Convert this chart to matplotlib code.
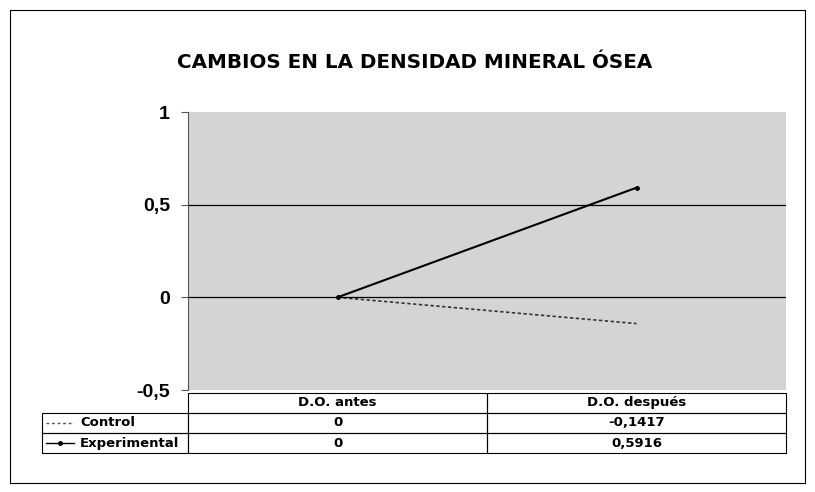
import matplotlib.pyplot as plt
from matplotlib.patches import Rectangle
from matplotlib.lines import Line2D

plt.rcParams['font.family'] = ['Liberation Sans', 'DejaVu Sans']

categories = ['D.O. antes', 'D.O. después']
control = [0, -0.1417]
experimental = [0, 0.5916]
control_labels = ['0', '-0,1417']
experimental_labels = ['0', '0,5916']
yticks = [-0.5, 0, 0.5, 1]
ytick_labels = ['-0,5', '0', '0,5', '1']

fig = plt.figure(figsize=(8.15, 4.92), dpi=100)
fig.patches.append(Rectangle((10 / 815, 1 - 483 / 492), 795 / 815, 473 / 492,
                             transform=fig.transFigure, fill=False,
                             edgecolor='black', linewidth=0.8))

ax = fig.add_axes([188 / 815, 1 - 390 / 492, 598 / 815, 278 / 492])
ax.set_facecolor('#d4d4d4')
x = [0.5, 1.5]
ax.plot(x, control, color='#333333', linestyle=(0, (2, 1.5)), linewidth=1.2)
ax.plot(x, experimental, color='black', linewidth=1.5, marker='o', markersize=2.5)
ax.set_xlim(0, 2)
ax.set_ylim(-0.5, 1)
ax.set_yticks(yticks)
ax.set_yticklabels(ytick_labels, fontsize=14, fontweight='bold')
ax.set_xticks([])
for y in [0, 0.5]:
    ax.axhline(y, color='black', linewidth=0.9)
for s in ['top', 'right', 'bottom']:
    ax.spines[s].set_visible(False)
ax.spines['left'].set_color('#555555')
ax.tick_params(axis='y', length=5, pad=8, color='#555555')

ax.set_title('CAMBIOS EN LA DENSIDAD MINERAL ÓSEA', fontsize=14.3, fontweight='bold',
             family='DejaVu Sans', x=(415 - 188) / 598, y=1.13)

# data table under the plot, drawn in axes coordinates
left = (42 - 188) / 598
xs = [left, 0, 0.5, 1]
ys = [-0.0108, -0.0827, -0.1547, -0.2266]
tkw = dict(transform=ax.transAxes, fontsize=9.5, fontweight='bold',
           family='DejaVu Sans', va='center', clip_on=False)


def cell(x0, x1, y0, y1):
    ax.add_patch(Rectangle((x0, y1), x1 - x0, y0 - y1, transform=ax.transAxes,
                           fill=False, edgecolor='black', linewidth=0.8, clip_on=False))


for j, name in enumerate(categories):
    cell(xs[j + 1], xs[j + 2], ys[0], ys[1])
    ax.text((xs[j + 1] + xs[j + 2]) / 2, (ys[0] + ys[1]) / 2, name, ha='center', **tkw)

rows = [('Control', control_labels), ('Experimental', experimental_labels)]
for i, (label, vals) in enumerate(rows):
    y0, y1 = ys[i + 1], ys[i + 2]
    yc = (y0 + y1) / 2
    cell(xs[0], xs[1], y0, y1)
    ax.text((80 - 188) / 598, yc, label, ha='left', **tkw)
    for j, v in enumerate(vals):
        cell(xs[j + 1], xs[j + 2], y0, y1)
        ax.text((xs[j + 1] + xs[j + 2]) / 2, yc, v, ha='center', **tkw)

lx0, lx1 = (46 - 188) / 598, (74 - 188) / 598
yc0 = (ys[1] + ys[2]) / 2
yc1 = (ys[2] + ys[3]) / 2
ax.add_line(Line2D([lx0, lx1], [yc0, yc0], transform=ax.transAxes,
                   color='#555555', linestyle=(0, (2, 2)), linewidth=1.0, clip_on=False))
ax.add_line(Line2D([lx0, lx1], [yc1, yc1], transform=ax.transAxes,
                   color='black', linewidth=1.0, clip_on=False))
ax.add_line(Line2D([(lx0 + lx1) / 2], [yc1], transform=ax.transAxes,
                   color='black', marker='o', markersize=2.5, linestyle='none', clip_on=False))

fig.savefig('out.png', dpi=100)
